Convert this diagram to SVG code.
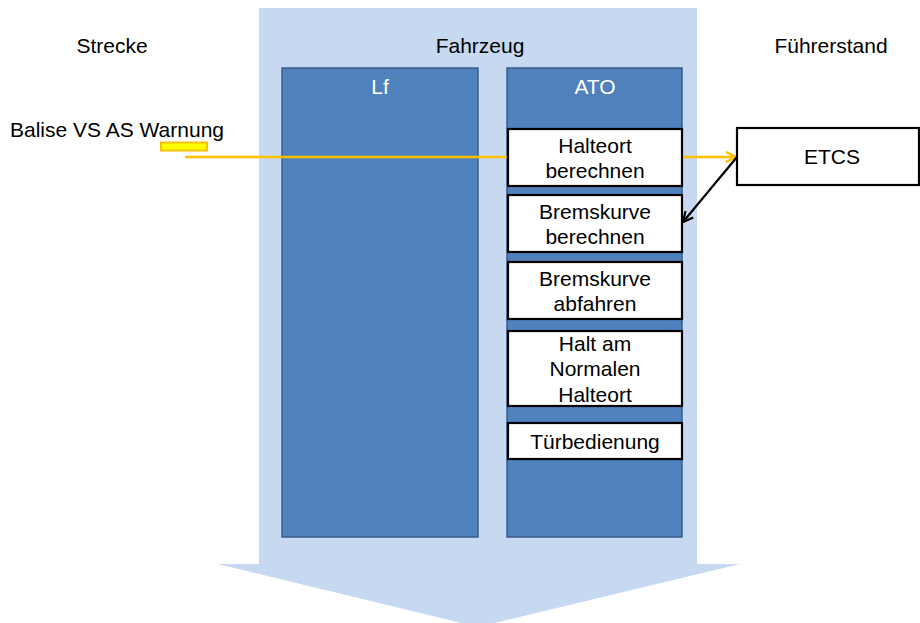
<svg xmlns="http://www.w3.org/2000/svg" width="920" height="623" viewBox="0 0 920 623">
  <style>
    text { font-family: "Liberation Sans", Arial, sans-serif; font-size: 21px; fill: #000; }
    .mid { text-anchor: middle; }
    .head { fill: #fff; }
    .column { fill: #4F81BD; stroke: #385D8A; stroke-width: 1.5; }
    .box { fill: #fff; stroke: #000; stroke-width: 2.2; }
    .signal { fill: none; stroke: #FFC000; stroke-width: 2.6; }
    .link { fill: none; stroke: #000; stroke-width: 2.2; }
  </style>
  <defs>
    <marker id="openYellow" viewBox="0 0 12 12" refX="11" refY="6" markerWidth="12" markerHeight="12" markerUnits="userSpaceOnUse" orient="auto">
      <path d="M1,1 L11,6 L1,11" fill="none" stroke="#FFC000" stroke-width="2.4"/>
    </marker>
    <marker id="openBlack" viewBox="0 0 12 12" refX="11" refY="6" markerWidth="12" markerHeight="12" markerUnits="userSpaceOnUse" orient="auto">
      <path d="M1,1 L11,6 L1,11" fill="none" stroke="#000" stroke-width="2.2"/>
    </marker>
  </defs>

  <!-- vehicle block arrow -->
  <g id="fahrzeug">
    <path d="M259,8 H697 V564 H740 L478,627 L218,564 H259 Z" fill="#C6D9F1"/>
    <text class="mid" x="480" y="53">Fahrzeug</text>
  </g>

  <!-- lane headings -->
  <g id="strecke"><text class="mid" x="112" y="53">Strecke</text></g>
  <g id="fuehrerstand"><text class="mid" x="831" y="53">Führerstand</text></g>

  <!-- columns -->
  <g id="lf">
    <rect class="column" x="282" y="68" width="196" height="469"/>
    <text class="mid head" x="380" y="94">Lf</text>
  </g>
  <g id="ato">
    <rect class="column" x="507" y="68" width="175" height="469"/>
    <text class="mid head" x="595" y="94">ATO</text>
  </g>

  <!-- balise -->
  <g id="balise">
    <text x="10" y="137">Balise VS AS Warnung</text>
    <rect x="161" y="142.5" width="46" height="8" fill="#FFFF00" stroke="#FFC000" stroke-width="2"/>
  </g>

  <!-- connectors -->
  <g id="connectors">
    <line class="signal" x1="185" y1="157" x2="736" y2="157" marker-end="url(#openYellow)"/>
    <line class="link" x1="737" y1="157" x2="683" y2="222" marker-end="url(#openBlack)"/>
  </g>

  <!-- ATO functions -->
  <g id="halteort-berechnen">
    <rect class="box" x="508" y="129" width="174" height="57"/>
    <text class="mid" x="595" y="152.5">Halteort</text>
    <text class="mid" x="595" y="178">berechnen</text>
  </g>
  <g id="bremskurve-berechnen">
    <rect class="box" x="508" y="195" width="174" height="57"/>
    <text class="mid" x="595" y="218.5">Bremskurve</text>
    <text class="mid" x="595" y="244">berechnen</text>
  </g>
  <g id="bremskurve-abfahren">
    <rect class="box" x="508" y="262" width="174" height="57"/>
    <text class="mid" x="595" y="285.5">Bremskurve</text>
    <text class="mid" x="595" y="311">abfahren</text>
  </g>
  <g id="halt">
    <rect class="box" x="508" y="331" width="174" height="75"/>
    <text class="mid" x="595" y="350.5">Halt am</text>
    <text class="mid" x="595" y="376">Normalen</text>
    <text class="mid" x="595" y="401.5">Halteort</text>
  </g>
  <g id="tuerbedienung">
    <rect class="box" x="508" y="423" width="174" height="36"/>
    <text class="mid" x="595" y="448.5">Türbedienung</text>
  </g>

  <!-- driver cab -->
  <g id="etcs">
    <rect class="box" x="737" y="128" width="182" height="57"/>
    <text class="mid" x="832" y="164">ETCS</text>
  </g>
</svg>
